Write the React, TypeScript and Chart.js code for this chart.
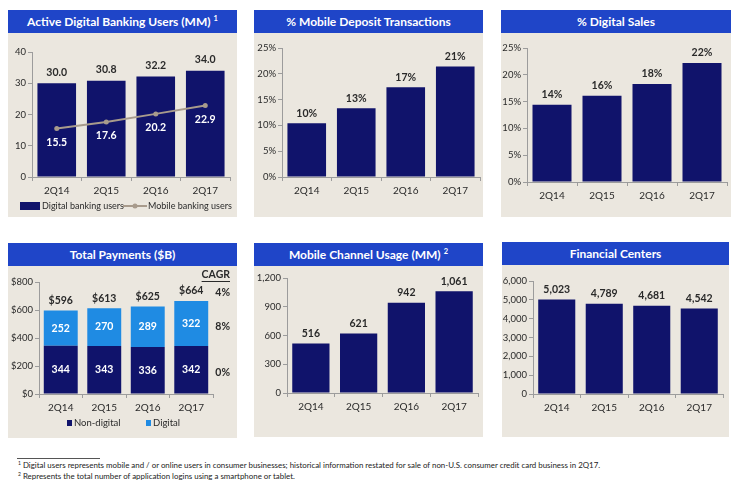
import React, { useEffect, useRef } from "react";
import { Chart, registerables } from "chart.js";
Chart.register(...registerables);

// ---------- data ----------
const quarters = ["2Q14", "2Q15", "2Q16", "2Q17"];
const digitalUsers = [30.0, 30.8, 32.2, 34.0];
const digitalUsersLabels = ["30.0", "30.8", "32.2", "34.0"];
const mobileUsers = [15.5, 17.6, 20.2, 22.9];
const mobileUsersLabels = ["15.5", "17.6", "20.2", "22.9"];
const mobileDepositPct = [10.4, 13.3, 17.4, 21.4];
const mobileDepositLabels = ["10%", "13%", "17%", "21%"];
const digitalSalesPct = [14.4, 16.1, 18.3, 22.2];
const digitalSalesLabels = ["14%", "16%", "18%", "22%"];
const nonDigitalPayments = [344, 343, 336, 342];
const digitalPayments = [252, 270, 289, 322];
const totalPaymentLabels = ["$596", "$613", "$625", "$664"];
const cagrLabels = ["4%", "8%", "0%"];
const mobileChannel = [516, 621, 942, 1061];
const mobileChannelLabels = ["516", "621", "942", "1,061"];
const financialCenters = [5023, 4789, 4681, 4542];
const financialCentersLabels = ["5,023", "4,789", "4,681", "4,542"];

// ---------- styles ----------
const NAVY = "#10136b";
const LIGHT = "#1f8be3";
const TITLE_BG = "#1f45c8";
const PANEL_BG = "#ebe7df";
const LINE = "#a89b8c";
const AXIS = "#9c9c9c";
const TXT = "#2a2a2a";
const FONT = "Lato, 'Open Sans', sans-serif";

const labelPlugin = {
  id: "barLabels",
  afterDatasetsDraw(chart: any, _a: any, opts: any) {
    const items = (opts && opts.items) || [];
    const ctx = chart.ctx;
    ctx.save();
    items.forEach((it: any) => {
      const meta = chart.getDatasetMeta(it.ds);
      meta.data.forEach((el: any, i: number) => {
        const text = it.texts[i];
        let y = el.y;
        if (it.pos === "top") y = el.y - it.offset;
        else if (it.pos === "center") y = (el.y + el.base) / 2;
        else if (it.pos === "below") y = el.y + it.offset;
        ctx.font = `bold ${it.size || 10.5}px ${FONT}`;
        ctx.fillStyle = it.color;
        ctx.textAlign = "center";
        ctx.textBaseline = "middle";
        ctx.fillText(text, el.x, y);
      });
    });
    ctx.restore();
  },
};

function makeScales(p: any) {
  return {
    x: {
      stacked: !!p.stacked,
      grid: { display: true, drawOnChartArea: false, drawTicks: true, tickLength: 4, color: AXIS },
      border: { color: AXIS },
      ticks: { color: TXT, font: { family: FONT, size: 10 }, padding: 4 },
      afterFit: (s: any) => { s.height = p.xHeight; },
    },
    y: {
      stacked: !!p.stacked,
      min: p.min,
      max: p.max,
      ticks: { stepSize: p.step, callback: p.fmt, color: TXT, font: { family: FONT, size: 9.5 }, padding: 2 },
      grid: { drawOnChartArea: false, tickLength: 4, color: AXIS },
      border: { color: AXIS },
      afterFit: (s: any) => { s.width = p.yWidth; },
    },
  };
}

function barDataset(data: number[], color: string, extra: any = {}) {
  return { type: "bar", data, backgroundColor: color, barPercentage: 0.78, categoryPercentage: 1, order: 1, ...extra };
}

function baseOptions(p: any, labelItems: any[]) {
  return {
    responsive: false,
    animation: false,
    layout: { padding: { top: p.padTop, right: p.padRight, left: 0, bottom: 0 } },
    plugins: { legend: { display: false }, tooltip: { enabled: false }, barLabels: { items: labelItems } },
    scales: makeScales(p),
  };
}

const fmtNum = (v: any) => Number(v).toLocaleString("en-US");

// ---------- chart configs ----------
function cfgDigitalUsers() {
  const p = { min: 0, max: 40, step: 10, fmt: (v: any) => v, yWidth: 24, xHeight: 40, padTop: 19, padRight: 7 };
  const legendPlugin = {
    id: "leg1",
    afterDraw(chart: any) {
      const ctx = chart.ctx;
      ctx.save();
      const y = 173;
      ctx.fillStyle = NAVY;
      ctx.fillRect(12, y - 4, 20, 8);
      ctx.font = `9px ${FONT}`;
      ctx.fillStyle = TXT;
      ctx.textBaseline = "middle";
      ctx.textAlign = "left";
      ctx.fillText("Digital banking users", 34, y);
      ctx.strokeStyle = LINE;
      ctx.lineWidth = 2;
      ctx.beginPath();
      ctx.moveTo(115, y);
      ctx.lineTo(139, y);
      ctx.stroke();
      ctx.fillStyle = LINE;
      ctx.beginPath();
      ctx.arc(127, y, 2.5, 0, Math.PI * 2);
      ctx.fill();
      ctx.fillStyle = TXT;
      ctx.fillText("Mobile banking users", 140, y);
      ctx.restore();
    },
  };
  return {
    type: "bar",
    data: {
      labels: quarters,
      datasets: [
        barDataset(digitalUsers, NAVY),
        {
          type: "line", data: mobileUsers, borderColor: LINE, backgroundColor: LINE, borderWidth: 2,
          pointRadius: 2.5, pointBackgroundColor: LINE, pointBorderWidth: 0, tension: 0, order: 0,
        },
      ],
    },
    options: baseOptions(p, [
      { ds: 0, texts: digitalUsersLabels, pos: "top", offset: 11, color: TXT },
      { ds: 1, texts: mobileUsersLabels, pos: "below", offset: 14, color: "#ffffff" },
    ]),
    plugins: [labelPlugin, legendPlugin],
  };
}

function cfgSimple(values: number[], labels: string[], p: any) {
  return {
    type: "bar",
    data: { labels: quarters, datasets: [barDataset(values, NAVY)] },
    options: baseOptions(p, [{ ds: 0, texts: labels, pos: "top", offset: 10, color: TXT }]),
    plugins: [labelPlugin],
  };
}

function cfgPayments() {
  const p = { min: 0, max: 800, step: 200, fmt: (v: any) => "$" + v, yWidth: 31, xHeight: 44, padTop: 16, padRight: 24, stacked: true };
  const extra = {
    id: "pay",
    afterDraw(chart: any) {
      const ctx = chart.ctx;
      const ys = chart.scales.y;
      ctx.save();
      ctx.font = `bold 10.5px ${FONT}`;
      ctx.fillStyle = TXT;
      ctx.textAlign = "right";
      ctx.textBaseline = "middle";
      const rx = 222;
      ctx.fillText("CAGR", rx, 9);
      const w = ctx.measureText("CAGR").width;
      ctx.fillRect(rx - w, 15, w, 1);
      const last = quarters.length - 1;
      const total = nonDigitalPayments[last] + digitalPayments[last];
      const cagrY = [
        ys.getPixelForValue(total) - 8,
        ys.getPixelForValue(nonDigitalPayments[last] + digitalPayments[last] / 2) + 3,
        ys.getPixelForValue(nonDigitalPayments[last] / 2) + 3,
      ];
      cagrLabels.forEach((t, i) => ctx.fillText(t, rx, cagrY[i]));
      // legend
      const y = 157;
      ctx.font = `9.5px ${FONT}`;
      ctx.textAlign = "left";
      ctx.fillStyle = NAVY;
      ctx.fillRect(59, y - 3, 5, 6);
      ctx.fillStyle = TXT;
      ctx.fillText("Non-digital", 66, y);
      ctx.fillStyle = LIGHT;
      ctx.fillRect(138, y - 3, 5, 6);
      ctx.fillStyle = TXT;
      ctx.fillText("Digital", 145, y);
      ctx.restore();
    },
  };
  return {
    type: "bar",
    data: {
      labels: quarters,
      datasets: [barDataset(nonDigitalPayments, NAVY), barDataset(digitalPayments, LIGHT)],
    },
    options: baseOptions(p, [
      { ds: 0, texts: nonDigitalPayments.map(String), pos: "center", color: "#ffffff" },
      { ds: 1, texts: digitalPayments.map(String), pos: "center", color: "#ffffff" },
      { ds: 1, texts: totalPaymentLabels, pos: "top", offset: 10, color: TXT },
    ]),
    plugins: [labelPlugin, extra],
  };
}

// ---------- components ----------
function ChartCanvas({ width, height, make }: any) {
  const ref = useRef<HTMLCanvasElement | null>(null);
  useEffect(() => {
    if (!ref.current) return;
    const chart = new Chart(ref.current, make());
    return () => chart.destroy();
  }, []);
  return <canvas ref={ref} width={width} height={height} style={{ width, height, display: "block" }} />;
}

function Panel({ left, top, width, height, titleH, title, sup, make }: any) {
  return (
    <div style={{ position: "absolute", left, top, width, height, background: PANEL_BG }}>
      <div
        style={{
          height: titleH, background: TITLE_BG, color: "#fff", fontFamily: FONT, fontWeight: 700,
          fontSize: 12, lineHeight: titleH + "px", textAlign: "center", whiteSpace: "nowrap",
        }}
      >
        {title}
        {sup ? <sup style={{ fontSize: 7.5, marginLeft: 3, verticalAlign: 5, lineHeight: 0 }}>{sup}</sup> : null}
      </div>
      <ChartCanvas width={width} height={height - titleH} make={make} />
    </div>
  );
}

export default function App() {
  return (
    <div style={{ position: "absolute", left: 0, top: 0, width: 744, height: 481, background: "#fff", overflow: "hidden" }}>
      <Panel left={8} top={10} width={229} height={207} titleH={23} title="Active Digital Banking Users (MM)" sup="1" make={cfgDigitalUsers} />
      <Panel left={254} top={10} width={229} height={207} titleH={23} title="% Mobile Deposit Transactions"
        make={() => cfgSimple(mobileDepositPct, mobileDepositLabels, { min: 0, max: 25, step: 5, fmt: (v: any) => v + "%", yWidth: 28, xHeight: 40, padTop: 15, padRight: 3 })} />
      <Panel left={501} top={10} width={230} height={207} titleH={23} title="% Digital Sales"
        make={() => cfgSimple(digitalSalesPct, digitalSalesLabels, { min: 0, max: 25, step: 5, fmt: (v: any) => v + "%", yWidth: 26, xHeight: 35, padTop: 15, padRight: 4 })} />
      <Panel left={8} top={243} width={229} height={195} titleH={23} title="Total Payments ($B)" make={cfgPayments} />
      <Panel left={254} top={243} width={229} height={194} titleH={23} title="Mobile Channel Usage (MM)" sup="2"
        make={() => cfgSimple(mobileChannel, mobileChannelLabels, { min: 0, max: 1200, step: 300, fmt: fmtNum, yWidth: 33, xHeight: 44, padTop: 12, padRight: 5 })} />
      <Panel left={502} top={242} width={227} height={195} titleH={23} title="Financial Centers"
        make={() => cfgSimple(financialCenters, financialCentersLabels, { min: 0, max: 6000, step: 1000, fmt: fmtNum, yWidth: 31, xHeight: 43, padTop: 16, padRight: 6 })} />
      <div style={{ position: "absolute", left: 17, top: 458, width: 83, height: 1, background: "#555" }} />
      <div style={{ position: "absolute", left: 18, top: 460, fontFamily: FONT, fontSize: 7.9, color: "#222", whiteSpace: "nowrap", lineHeight: "11px" }}>
        <div><sup style={{ fontSize: 5, verticalAlign: 3, lineHeight: 0 }}>1</sup> Digital users represents mobile and / or online users in consumer businesses; historical information restated for sale of non-U.S. consumer credit card business in 2Q17.</div>
        <div><sup style={{ fontSize: 5, verticalAlign: 3, lineHeight: 0 }}>2</sup> Represents the total number of application logins using a smartphone or tablet.</div>
      </div>
    </div>
  );
}
